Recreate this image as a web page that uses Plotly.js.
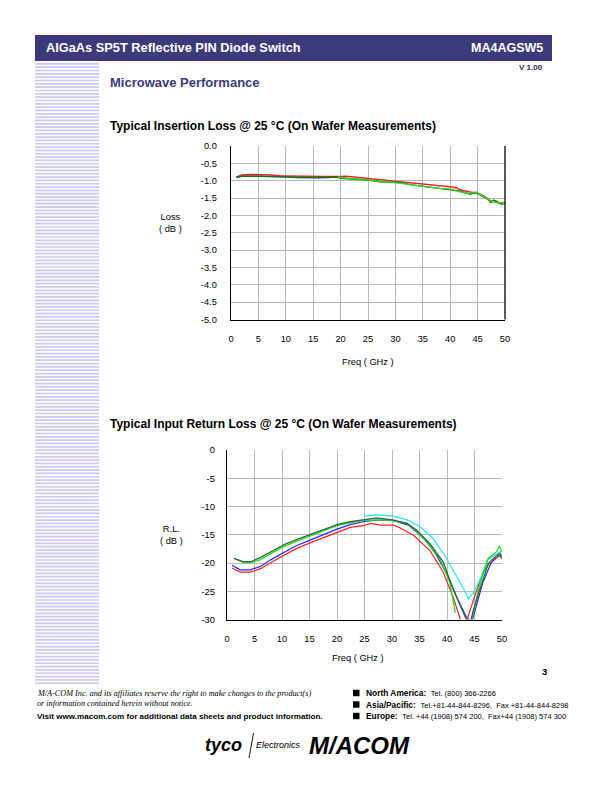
<!DOCTYPE html>
<html>
<head>
<meta charset="utf-8">
<script src="https://cdn.plot.ly/plotly-3.0.1.min.js"></script>
<style>html,body{margin:0;padding:0;background:#fff;}#chart{width:612px;height:792px;}</style>
</head>
<body>
<div id="chart"></div>
<script>
// ---------- Chart 1: Typical Insertion Loss ----------
var freqTicks = [0, 5, 10, 15, 20, 25, 30, 35, 40, 45, 50];
var ilTicks = [0.0, -0.5, -1.0, -1.5, -2.0, -2.5, -3.0, -3.5, -4.0, -4.5, -5.0];

var ilRedF = [1, 2, 4, 7, 9, 12, 15, 18, 20, 21, 23.5, 25, 26.6, 28, 30.2, 32, 35.1, 37, 40, 41, 41.8, 43, 43.6, 44.8, 46, 47.3, 48, 49.1, 50];
var ilRed  = [-0.89, -0.83, -0.82, -0.83, -0.86, -0.87, -0.87, -0.88, -0.88, -0.87, -0.91, -0.94, -0.97, -0.99, -1.01, -1.05, -1.10, -1.13, -1.17, -1.19, -1.26, -1.30, -1.33, -1.34, -1.45, -1.58, -1.60, -1.66, -1.63];

var ilPinkF = [1, 3, 6, 8, 12, 16, 20, 22, 25, 28, 31, 34, 37, 40, 42, 44, 46, 48, 50];
var ilPink  = [-0.88, -0.82, -0.83, -0.85, -0.87, -0.88, -0.87, -0.89, -0.94, -0.98, -1.02, -1.08, -1.12, -1.18, -1.28, -1.33, -1.46, -1.62, -1.64];

var ilBlueF = [1, 2, 4, 6, 8, 10, 12, 14, 16, 18];
var ilBlue  = [-0.91, -0.87, -0.87, -0.87, -0.88, -0.89, -0.91, -0.92, -0.92, -0.91];

var ilDkGreenF = [1, 2, 5, 8.6, 10, 12, 15, 19.5, 20, 21.8, 23.6, 25, 27.2, 30.8, 33, 35.7, 38, 40, 41.8, 43.6, 44.8, 46, 46.7, 47.4, 48, 48.6, 49.4, 50];
var ilDkGreen  = [-0.89, -0.87, -0.87, -0.87, -0.89, -0.90, -0.90, -0.90, -0.93, -0.95, -0.96, -0.98, -1.03, -1.05, -1.12, -1.18, -1.21, -1.27, -1.30, -1.39, -1.34, -1.43, -1.50, -1.63, -1.56, -1.60, -1.69, -1.63];

var ilLimeF = [19.5, 21, 23.6, 25, 27.2, 30.8, 33, 35.7, 38, 40, 41.8, 43.6, 44.8, 46, 47.3, 48.5, 49.4, 50];
var ilLime  = [-0.90, -0.92, -0.97, -0.98, -1.01, -1.07, -1.12, -1.18, -1.22, -1.24, -1.32, -1.37, -1.33, -1.44, -1.58, -1.62, -1.68, -1.62];

// ---------- Chart 2: Typical Input Return Loss ----------
var rlTicks = [0, -5, -10, -15, -20, -25, -30];

var rlBlueF = [0.9, 2.4, 4.2, 6.1, 8, 10.3, 12.5, 15.2, 17.8, 20, 22.4, 24.8, 27, 30, 33, 36, 38, 40, 42, 43.5, 44.5, 45.5, 46.5, 48, 49.5, 50];
var rlBlue  = [-20.4, -21.2, -21.2, -20.6, -19.4, -18.1, -17.0, -15.9, -14.8, -14.0, -13.2, -12.7, -12.4, -12.4, -13.3, -15.8, -18.5, -22.0, -26.5, -29.5, -30.5, -27.0, -23.5, -20.0, -18.6, -19.0];

var rlRedF = [0.9, 2.4, 4.2, 6.1, 8, 10.3, 12.5, 15.2, 17.8, 20, 22.4, 24.8, 26.1, 27.9, 30.3, 31.5, 33.9, 36.9, 39.3, 41.1, 42.7, 43.3, 43.9, 45.1, 46.6, 48.1, 49.6, 50];
var rlRed  = [-20.9, -21.6, -21.6, -21.0, -19.9, -18.6, -17.5, -16.4, -15.4, -14.5, -13.7, -13.4, -13.0, -13.3, -13.3, -13.8, -15.1, -17.8, -21.6, -26.0, -30.8, -31.4, -29.3, -25.7, -21.6, -19.5, -18.7, -19.2];

var rlLimeF = [1.3, 3, 4.5, 6.1, 8, 10.3, 12.5, 15.2, 17.8, 20, 22.4, 24.8, 27, 29.5, 31.2, 32.7, 34.2, 36.3, 38.7, 40.5, 41.5, 42.5, 44.5, 46, 47.5, 49, 49.5, 50];
var rlLime  = [-19.2, -19.9, -19.9, -19.4, -18.3, -17.1, -16.2, -15.2, -14.2, -13.4, -12.9, -12.4, -12.4, -12.4, -12.7, -13.0, -14.1, -16.3, -19.2, -23.4, -28.8, null, -29.8, -23.7, -19.2, -18.0, -17.0, -18.0];

var rlDkGreenF = [1.3, 3, 4.5, 6.1, 8, 10.3, 12.5, 15.2, 17.8, 20, 22.4, 24.8, 27.3, 30.3, 32.7, 34.5, 36.9, 39.3, 41.1, 42.4, 43.6, 44.2, 44.7, 46, 47.5, 49, 49.6, 50];
var rlDkGreen  = [-19.2, -19.8, -19.7, -19.0, -18.0, -16.8, -15.9, -14.9, -13.9, -13.2, -12.7, -12.3, -12.0, -12.4, -13.0, -14.2, -16.6, -19.8, -24.6, -27.5, -30.2, -30.8, -28.7, -24.6, -20.1, -18.7, -18.3, -19.2];

var rlCyanF = [25.0, 27.3, 30.3, 32.9, 35.1, 37.5, 39.7, 41.5, 43, 43.9, 44.8, 46.1, 47.3, 49.0, 49.7, 50];
var rlCyan  = [-11.7, -11.5, -11.7, -12.4, -13.6, -15.7, -18.8, -21.8, -24.5, -26.3, -25.3, -22.7, -19.5, -18.4, -18.0, -19.3];

// ---------- page geometry helpers ----------
var W = 612, H = 792;
function px(x) { return x / W; }
function py(y) { return 1 - y / H; }

var FONT = 'Liberation Sans, Arial, sans-serif';
var SERIF = 'Liberation Serif, Times New Roman, serif';

function line(x, y, color, width, xa, ya) {
  return { x: x, y: y, type: 'scatter', mode: 'lines', xaxis: xa, yaxis: ya,
           line: { color: color, width: width || 1.2 }, cliponaxis: false,
           showlegend: false, hoverinfo: 'skip', connectgaps: false };
}

var traces = [
  line(ilPinkF, ilPink, '#ff9a9a', 1.2, 'x', 'y'),
  line(ilBlueF, ilBlue, '#2020ff', 1.3, 'x', 'y'),
  line(ilRedF, ilRed, '#ff1a1a', 1.3, 'x', 'y'),
  line(ilDkGreenF, ilDkGreen, '#0a7a0a', 1.4, 'x', 'y'),
  line(ilLimeF, ilLime, '#22dd22', 1.3, 'x', 'y'),

  line(rlBlueF, rlBlue, '#2a2aff', 1.2, 'x2', 'y2'),
  line(rlRedF, rlRed, '#ff2222', 1.2, 'x2', 'y2'),
  line(rlCyanF, rlCyan, '#22e8e8', 1.2, 'x2', 'y2'),
  line(rlLimeF, rlLime, '#22dd22', 1.3, 'x2', 'y2'),
  line(rlDkGreenF, rlDkGreen, '#2f6a3a', 1.3, 'x2', 'y2')
];

function xAxis(dom, anchor) {
  return { domain: dom, anchor: anchor, range: [0, 50], tickmode: 'array',
           tickvals: freqTicks, ticktext: freqTicks.map(String), showgrid: true,
           gridcolor: '#b8b8b8', gridwidth: 1, zeroline: false, showline: true,
           linecolor: '#000', linewidth: 1.3, ticks: '', ticklabelstandoff: 10,
           tickfont: { family: FONT, size: 9.3, color: '#000' }, fixedrange: true };
}
function yAxis(dom, anchor, rng, vals, fmt, standoff) {
  return { domain: dom, anchor: anchor, range: rng, tickmode: 'array',
           tickvals: vals, ticktext: vals.map(function (v) { return fmt(v); }),
           showgrid: true, gridcolor: '#b8b8b8', gridwidth: 1, zeroline: false,
           showline: true, linecolor: '#000', linewidth: 1.3, ticks: '',
           ticklabelstandoff: standoff,
           tickfont: { family: FONT, size: 9.3, color: '#000' }, fixedrange: true };
}

var shapes = [];
// header bar
shapes.push({ type: 'rect', xref: 'paper', yref: 'paper', x0: px(35), x1: px(552), y0: py(61), y1: py(35),
              fillcolor: '#3c3a7a', line: { width: 0 }, layer: 'below' });
// left decorative stripes
for (var s = 63; s < 684; s += 3.33) {
  shapes.push({ type: 'rect', xref: 'paper', yref: 'paper', x0: px(35), x1: px(99), y0: py(s + 1.7), y1: py(s),
                fillcolor: '#cacaf4', line: { width: 0 }, layer: 'below' });
}
// chart 1 right border
shapes.push({ type: 'line', xref: 'paper', yref: 'paper', x0: px(505), x1: px(505), y0: py(319.5), y1: py(146),
              line: { color: '#000', width: 1.3 } });
// bullets
[693, 704.5, 716].forEach(function (yy) {
  shapes.push({ type: 'rect', xref: 'paper', yref: 'paper', x0: px(353), x1: px(359.5), y0: py(yy + 3.2), y1: py(yy - 3.2),
                fillcolor: '#000', line: { width: 0 } });
});
// tyco slash
shapes.push({ type: 'line', xref: 'paper', yref: 'paper', x0: px(253.5), x1: px(249), y0: py(733), y1: py(758),
              line: { color: '#000', width: 0.9 } });

function ann(text, x, y, size, opt) {
  opt = opt || {};
  return { text: text, x: px(x), y: py(y), xref: 'paper', yref: 'paper', showarrow: false,
           xanchor: opt.xanchor || 'left', yanchor: opt.yanchor || 'middle',
           align: opt.align || 'left',
           font: { family: opt.family || FONT, size: size, color: opt.color || '#000' } };
}

var annotations = [
  ann('<b>AlGaAs SP5T Reflective PIN Diode Switch</b>', 44, 47.5, 12.8, { color: '#fff' }),
  ann('<b>MA4AGSW5</b>', 545, 47.5, 12.5, { color: '#fff', xanchor: 'right' }),
  ann('<b>V 1.00</b>', 545, 67.5, 8, { xanchor: 'right', color: '#2a2a4a' }),
  ann('<b>Microwave Performance</b>', 108, 83, 13, { color: '#3c3a7a' }),
  ann('<b>Typical Insertion Loss @ 25 °C (On Wafer Measurements)</b>', 108, 126, 12),
  ann('<b>Typical Input Return Loss @ 25 °C (On Wafer Measurements)</b>', 108, 424, 12),
  ann('Loss<br>( dB )', 170, 223, 9.3, { xanchor: 'center', align: 'center' }),
  ann('Freq ( GHz )', 368, 362, 9.3, { xanchor: 'center' }),
  ann('R.L.<br>( dB )', 171, 535, 9.3, { xanchor: 'center', align: 'center' }),
  ann('Freq ( GHz )', 358, 658, 9.3, { xanchor: 'center' }),
  ann('<b>3</b>', 544, 671, 9.5, { xanchor: 'center' }),
  ann('<i>M/A-COM Inc. and its affiliates reserve the right to make changes to the product(s)</i>', 35, 693, 8.2, { family: SERIF }),
  ann('<i>or information contained herein without notice.</i>', 35, 703.5, 8.2, { family: SERIF }),
  ann('<b>Visit www.macom.com for additional data sheets and product information.</b>', 35, 716, 8.1),
  ann('<b>North America:</b>  <span style="font-size:7.5px">Tel. (800) 366-2266</span>', 364, 693, 8.4),
  ann('<b>Asia/Pacific:</b>  <span style="font-size:7.5px">Tel.+81-44-844-8296,  Fax +81-44-844-8298</span>', 364, 704.5, 8.4),
  ann('<b>Europe:</b>  <span style="font-size:7.5px">Tel. +44 (1908) 574 200,  Fax+44 (1908) 574 300</span>', 364, 716, 8.4),
  ann('<b><i>tyco</i></b>', 224, 745, 18, { xanchor: 'center' }),
  ann('<i>Electronics</i>', 278, 745, 9, { xanchor: 'center' }),
  ann('<b><i>M/ACOM</i></b>', 359, 745, 24, { xanchor: 'center' })
];

var layout = {
  width: W, height: H, margin: { l: 0, r: 0, t: 0, b: 0 },
  paper_bgcolor: '#fff', plot_bgcolor: '#fff', showlegend: false,
  xaxis: xAxis([px(231), px(505)], 'y'),
  yaxis: yAxis([py(319.5), py(146)], 'x', [-5, 0], ilTicks, function (v) { return v.toFixed(1); }, 11),
  xaxis2: xAxis([px(227), px(502)], 'y2'),
  yaxis2: yAxis([py(619.5), py(450)], 'x2', [-30, 0], rlTicks, function (v) { return String(v); }, 9),
  shapes: shapes,
  annotations: annotations
};

Plotly.newPlot('chart', traces, layout, { staticPlot: true, displayModeBar: false });
</script>
</body>
</html>
